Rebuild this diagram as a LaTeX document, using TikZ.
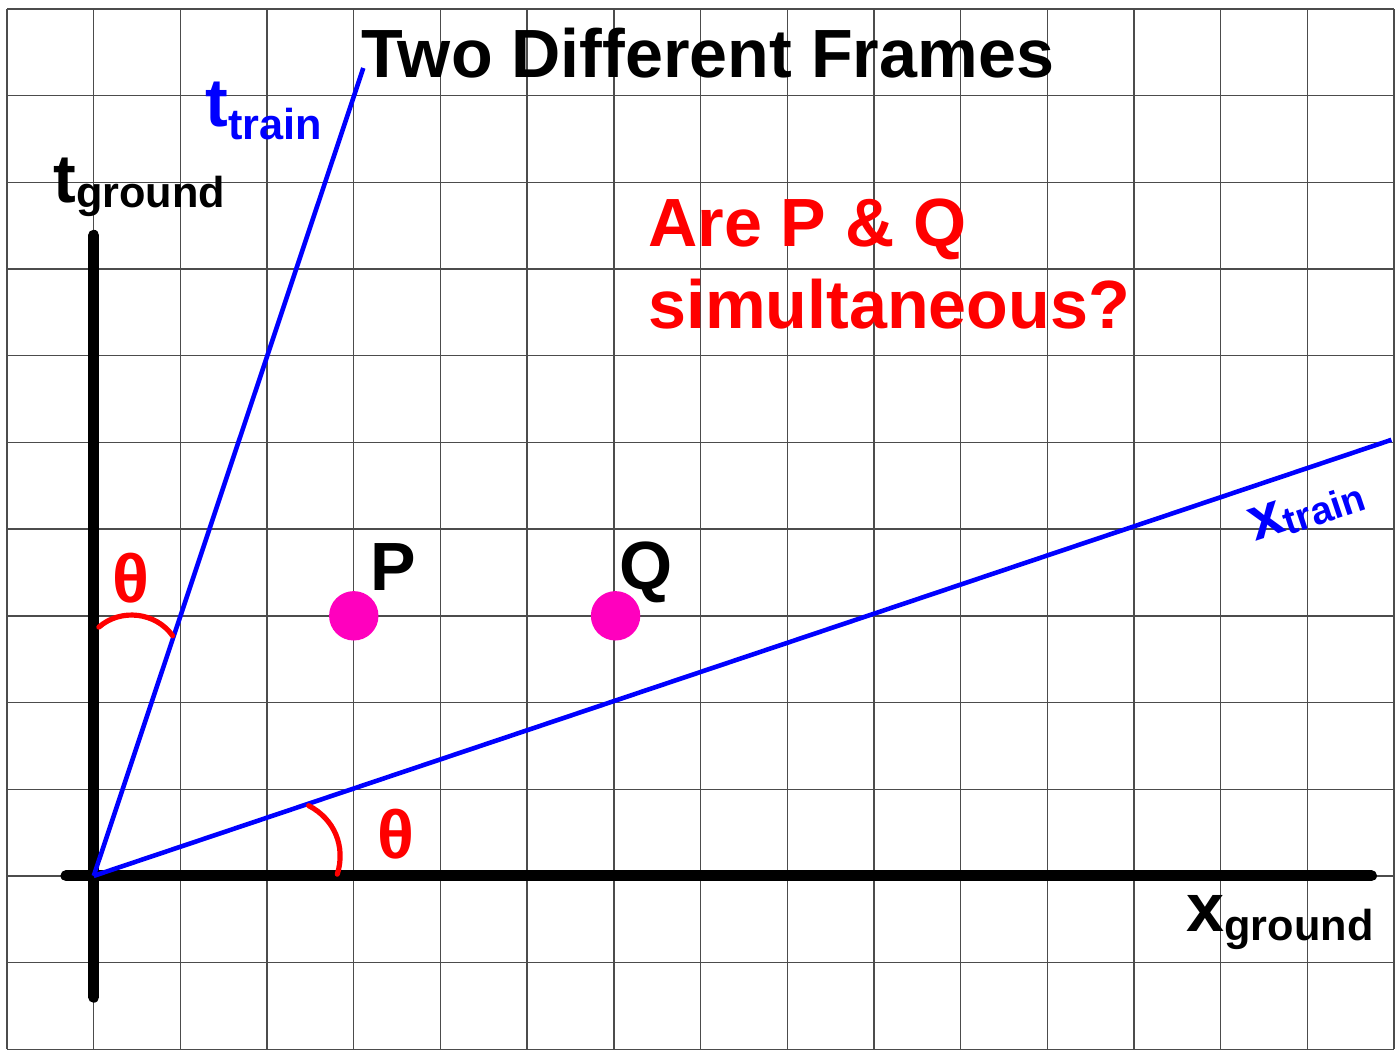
\documentclass[tikz,border=0pt]{standalone}
\usepackage{fontspec}
\setmainfont{Liberation Sans}
\usepackage{xcolor}
\usepackage{tikz}
\usetikzlibrary{positioning,calc}
\definecolor{eventpink}{RGB}{255,0,190}
\newcommand{\axisname}[3]{{\fontsize{22.4pt}{24pt}\selectfont\bfseries #1}\raisebox{-#3}{\fontsize{14.2pt}{16pt}\selectfont\bfseries #2}}

\begin{document}
\begin{tikzpicture}[
        gridline/.style={black!70, line width=0.45pt},
        mainaxis/.style={line width=3.6pt, line cap=round},
        trainaxis/.style={blue, line width=1.5pt},
        anglearc/.style={red, line width=1.7pt, line cap=round},
        event/.style={circle, fill=eventpink, minimum size=0.57cm, inner sep=0pt},
        bigtext/.style={font=\fontsize{22.4pt}{26.6pt}\selectfont\bfseries, inner sep=0pt}
    ]
    \useasboundingbox (-1.081,-2.092) rectangle (15.046,10.104);

    % background grid
    \draw[gridline] (-1,-2) grid (15,10);

    % ground frame
    \coordinate (origin) at (0,0);
    \coordinate (tbottom) at (0,-1.40);
    \coordinate (ttop) at (0,7.39);
    \coordinate (xleft) at (-0.32,0);
    \coordinate (xright) at (14.74,0);
    \draw[mainaxis] (tbottom) -- (ttop);
    \draw[mainaxis] (xleft) -- (xright);

    % train frame
    \coordinate (ttrainend) at (3.11,9.32);
    \coordinate (xtrainend) at (14.97,5.03);
    \draw[trainaxis] (origin) -- (ttrainend);
    \draw[trainaxis] (origin) -- (xtrainend);

    % angles
    \coordinate (tarcstart) at (0.06,2.87);
    \coordinate (tarcend) at (0.91,2.77);
    \coordinate (xarcstart) at (2.48,0.81);
    \coordinate (xarcend) at (2.81,0.02);
    \draw[anglearc] (tarcstart) to[bend left=48] (tarcend);
    \draw[anglearc] (xarcstart) to[bend left=40] (xarcend);
    \node[bigtext, red] (thetatop) at (0.43,3.44) {θ};
    \node[bigtext, red] (thetabottom) at (3.49,0.48) {θ};

    % events
    \node[event] (P) at (3,3) {};
    \node[event] (Q) at (6.02,3) {};
    \node[bigtext] (Plabel) at (3.45,3.56) {P};
    \node[bigtext] (Qlabel) at (6.37,3.50) {Q};

    % labels
    \node[bigtext, anchor=base west] (title) at (3.08,9.21) {Two Different Frames};
    \node[bigtext, red, anchor=base west, align=left] (question) at (6.39,6.32)
        {Are P \& Q\\simultaneous?};
    \node[anchor=base west, inner sep=0pt] (tground) at (-0.47,7.77)
        {\axisname{t}{ground}{0.058cm}};
    \node[anchor=base west, inner sep=0pt, blue] (ttrain) at (1.28,8.64)
        {\axisname{t}{train}{0.15cm}};
    \node[anchor=base west, inner sep=0pt] (xground) at (12.60,-0.646)
        {\axisname{x}{ground}{0.10cm}};
    \node[inner sep=0pt, blue, rotate=18.5] (xtrain) at (13.99,4.22)
        {{\fontsize{20pt}{22pt}\selectfont\bfseries x}\raisebox{-0.05cm}{\fontsize{12.7pt}{14pt}\selectfont\bfseries train}};

\end{tikzpicture}
\end{document}
